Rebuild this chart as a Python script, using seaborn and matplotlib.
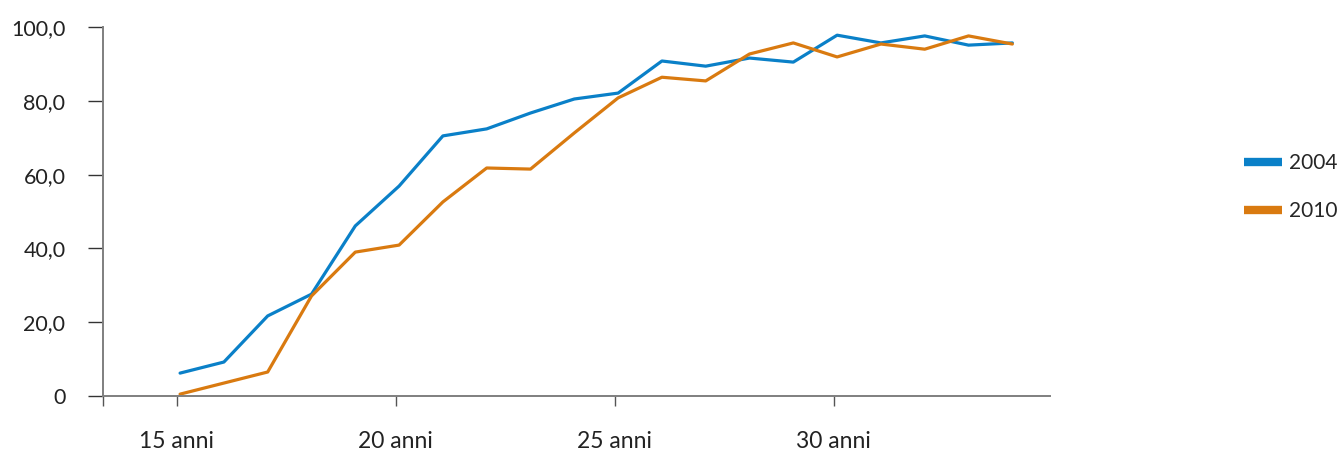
import numpy as np
import pandas as pd
import matplotlib
matplotlib.use("Agg")
import matplotlib.pyplot as plt
import seaborn as sns

# Share (%) by age, two survey years
ages = list(range(15, 35))
share_2004 = [6.2, 9.2, 21.7, 27.6, 46.1, 56.9, 70.5, 72.4, 76.7, 80.5,
              82.1, 90.8, 89.4, 91.6, 90.5, 97.8, 95.7, 97.6, 95.1, 95.7]
share_2010 = [0.5, 3.5, 6.5, 27.1, 39.0, 40.9, 52.6, 61.8, 61.5, 71.3,
              80.8, 86.4, 85.4, 92.7, 95.7, 91.9, 95.4, 94.0, 97.6, 95.4]
series_names = ["2004", "2010"]
tick_ages = [15, 20, 25, 30]
tick_labels = ["15 anni", "20 anni", "25 anni", "30 anni"]
y_ticks = [0, 20, 40, 60, 80, 100]

colors = {"2004": "#0a80c8", "2010": "#d97a10"}

df = pd.DataFrame({
    "pos": list(range(len(ages))) * 2,
    "value": share_2004 + share_2010,
    "anno": [series_names[0]] * len(ages) + [series_names[1]] * len(ages),
})

sns.set_style("white")
plt.rcParams["font.family"] = ["Lato", "DejaVu Sans"]

fig = plt.figure(figsize=(13.41, 4.51), dpi=100)
ax = fig.add_axes([0.0768, 0.122, 0.7062, 0.818])

sns.lineplot(data=df, x="pos", y="value", hue="anno", palette=colors,
             linewidth=2.3, ax=ax, legend=True)

ax.set_ylim(0, 100)
ax.set_xlim(-1.76, 19.86)
ax.set_xlabel("")
ax.set_ylabel("")

ax.set_xticks([ages.index(a) - 0.08 for a in tick_ages])
ax.set_xticklabels(tick_labels)
ax.set_xticks([-1.76], minor=True)
ax.set_yticks(y_ticks)
ax.set_yticklabels(["0" if v == 0 else f"{v:.1f}".replace(".", ",") for v in y_ticks])

for side in ["top", "right"]:
    ax.spines[side].set_visible(False)
for side in ["left", "bottom"]:
    ax.spines[side].set_color("#7f7f7f")
    ax.spines[side].set_linewidth(1.4)

ax.tick_params(axis="x", which="both", bottom=True, direction="out", length=7,
               width=1.0, color="#555555", pad=18, labelsize=16.5, labelcolor="#222222")
ax.tick_params(axis="y", left=True, direction="out", length=11, width=1.0,
               color="#333333", pad=16, labelsize=15.5, labelcolor="#222222")
ax.grid(False)

handles, labels = ax.get_legend_handles_labels()
for h in handles:
    h.set_linewidth(6)
    h.set_solid_capstyle("butt")
leg = ax.legend(handles, labels, loc="center left", bbox_to_anchor=(1.205, 0.566),
                frameon=False, fontsize=15, handlelength=1.8, handletextpad=0.35,
                labelspacing=1.35, borderpad=0, borderaxespad=0)

fig.savefig("out.png", dpi=100)
